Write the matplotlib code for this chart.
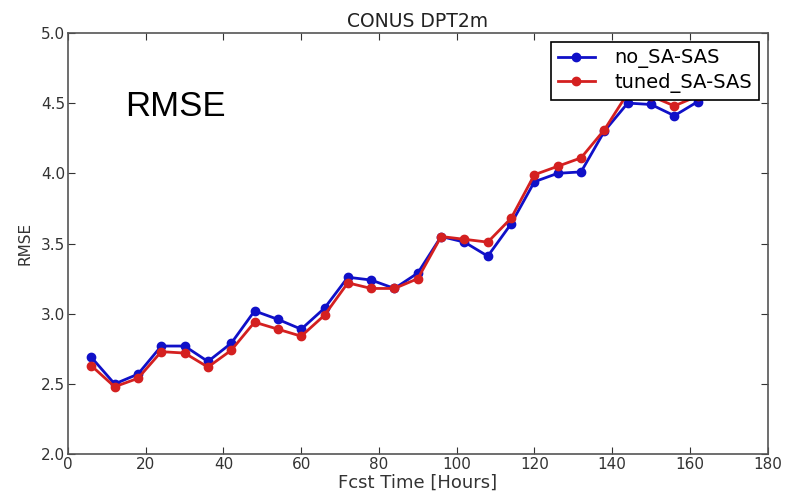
import matplotlib
matplotlib.use('Agg')
import matplotlib.pyplot as plt

# Forecast hours and RMSE values
fcst_hours = [6, 12, 18, 24, 30, 36, 42, 48, 54, 60, 66, 72, 78, 84,
              90, 96, 102, 108, 114, 120, 126, 132, 138, 144, 150, 156, 162]
no_sa_sas = [2.69, 2.50, 2.57, 2.77, 2.77, 2.66, 2.79, 3.02, 2.96, 2.89,
             3.04, 3.26, 3.24, 3.18, 3.29, 3.55, 3.51, 3.41, 3.64, 3.94,
             4.00, 4.01, 4.30, 4.50, 4.49, 4.41, 4.51]
tuned_sa_sas = [2.63, 2.48, 2.54, 2.73, 2.72, 2.62, 2.74, 2.94, 2.89, 2.84,
                2.99, 3.22, 3.18, 3.18, 3.25, 3.55, 3.53, 3.51, 3.68, 3.99,
                4.05, 4.11, 4.31, 4.57, 4.55, 4.48, 4.55]
x_ticks = [0, 20, 40, 60, 80, 100, 120, 140, 160, 180]
y_ticks = [2.0, 2.5, 3.0, 3.5, 4.0, 4.5, 5.0]

fig = plt.figure(figsize=(7.87, 4.98), dpi=100)
ax = fig.add_axes([0.0864, 0.088, 0.889, 0.846])

ax.plot(fcst_hours, no_sa_sas, color='#1010c8', marker='o', markersize=6,
        linewidth=2, markeredgecolor='#1010c8', label='no_SA-SAS')
ax.plot(fcst_hours, tuned_sa_sas, color='#d42020', marker='o', markersize=6,
        linewidth=2, markeredgecolor='#d42020', label='tuned_SA-SAS')

ax.set_xlim(0, 180)
ax.set_ylim(2.0, 5.0)
ax.set_xticks(x_ticks)
ax.set_yticks(y_ticks)
ax.set_yticklabels([f'{v:.1f}' for v in y_ticks])
ax.tick_params(direction='in', top=True, right=True, length=5,
               labelsize=11, colors='#333333', pad=2)
for s in ax.spines.values():
    s.set_color('#555555')
    s.set_linewidth(1.2)

ax.set_title('CONUS DPT2m', fontsize=13.5, color='#222222', pad=4)
ax.set_xlabel('Fcst Time [Hours]', fontsize=13, color='#333333', labelpad=1)
ax.set_ylabel('RMSE', fontsize=11, color='#333333', labelpad=6)

ax.text(0.153, 0.825, 'RMSE', transform=ax.transAxes, fontsize=25,
        family='Liberation Sans', color='black', ha='center', va='center')

leg = ax.legend(loc='upper right', fontsize=14, frameon=True, fancybox=False,
                framealpha=1, borderaxespad=0.45, handlelength=1.9,
                handletextpad=1.0, borderpad=0.35, labelspacing=0.25)
leg.get_frame().set_edgecolor('black')
leg.get_frame().set_linewidth(1.2)

fig.savefig('out.png', dpi=100, facecolor='white')
